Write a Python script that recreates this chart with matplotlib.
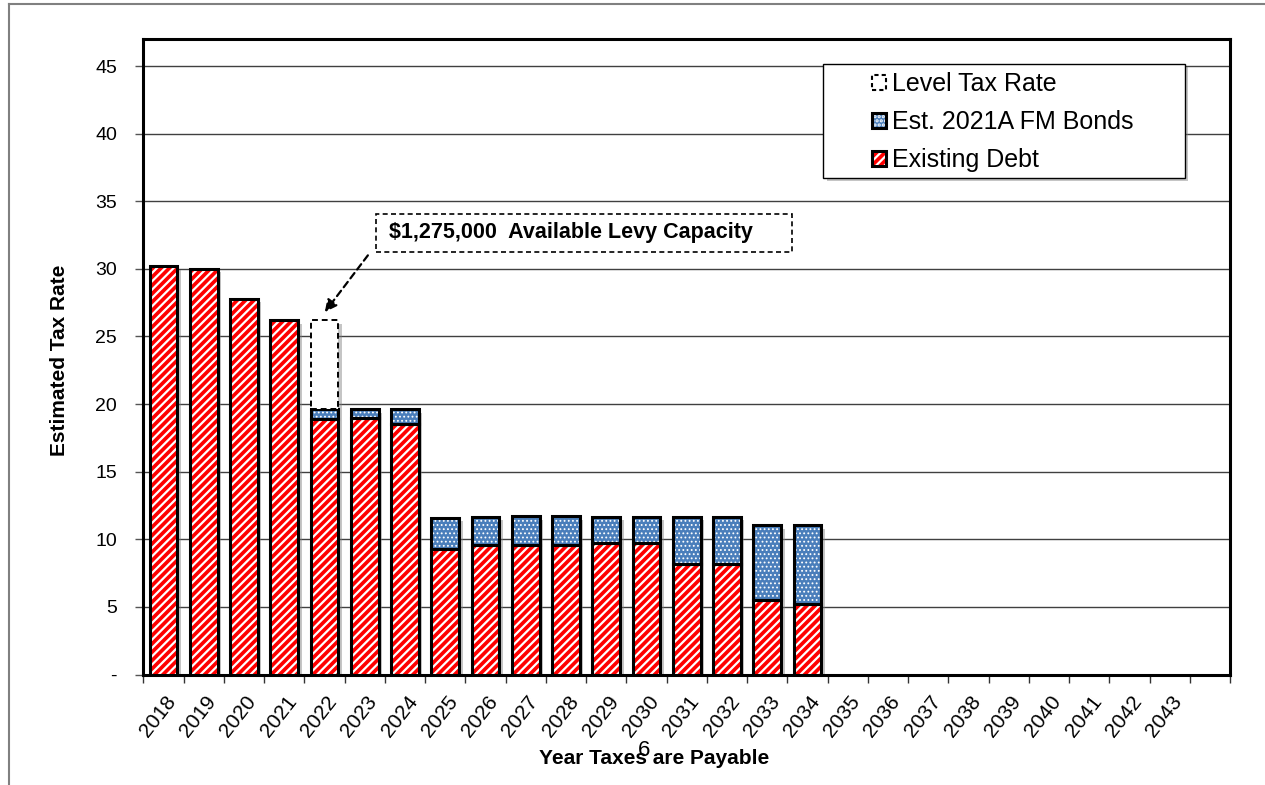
import matplotlib
matplotlib.use('Agg')
import numpy as np
import matplotlib.pyplot as plt
from matplotlib.patches import Rectangle, Patch
from matplotlib.lines import Line2D
from matplotlib import patheffects as pe
from matplotlib.legend_handler import HandlerTuple

plt.rcParams['font.family'] = ['Liberation Sans', 'DejaVu Sans']
plt.rcParams['hatch.linewidth'] = 1.6

# ---------------- data ----------------
years = ['2018', '2019', '2020', '2021', '2022', '2023', '2024', '2025', '2026',
         '2027', '2028', '2029', '2030', '2031', '2032', '2033', '2034', '2035',
         '2036', '2037', '2038', '2039', '2040', '2041', '2042', '2043', '']
existing_debt = [30.2, 30.0, 27.8, 26.2, 18.9, 19.0, 18.5, 9.3, 9.55, 9.6, 9.6,
                 9.7, 9.7, 8.2, 8.2, 5.5, 5.2, 0, 0, 0, 0, 0, 0, 0, 0, 0, 0]
fm_bonds = [0, 0, 0, 0, 0.7, 0.6, 1.1, 2.3, 2.1, 2.1, 2.1, 1.95, 1.95, 3.45,
            3.45, 5.55, 5.85, 0, 0, 0, 0, 0, 0, 0, 0, 0, 0]
level_tax = [0, 0, 0, 0, 6.6, 0, 0, 0, 0, 0, 0, 0, 0, 0, 0, 0, 0, 0, 0, 0, 0,
             0, 0, 0, 0, 0, 0]
y_ticks = [0, 5, 10, 15, 20, 25, 30, 35, 40, 45]
y_ticklabels = ['-', '5', '10', '15', '20', '25', '30', '35', '40', '45']
labels = ['Level Tax Rate', 'Est. 2021A FM Bonds', 'Existing Debt']
annotation_text = '\\$1,275,000  Available Levy Capacity'

RED = '#FF0000'
BLUE = '#4A7EBB'


def set_hlw(patches, lw):
    for p in patches:
        if hasattr(p, 'set_hatch_linewidth'):
            p.set_hatch_linewidth(lw)


fig = plt.figure(figsize=(12.65, 7.85), dpi=100)
ax = fig.add_axes([143.3 / 1265, 1 - 674.5 / 785, (1230 - 143.3) / 1265, (674.5 - 39) / 785])

n = len(years)
x = np.arange(n)
ex = np.array(existing_debt)
fb = np.array(fm_bonds)
lt = np.array(level_tax)
total = ex + fb + lt
w = 0.69

# shadows
m = total > 0
ax.bar(x[m], total[m], w, color='none', linewidth=0, zorder=2,
       path_effects=[pe.SimplePatchShadow(offset=(2.5, -2.5), shadow_rgbFace='#7f7f7f', alpha=0.45)])

# existing debt
m1 = ex > 0
with plt.rc_context({'hatch.linewidth': 1.6}):
    b = ax.bar(x[m1], ex[m1], w, color=RED, edgecolor='white', linewidth=0, hatch='////', zorder=3)
set_hlw(b, 1.6)
ax.bar(x[m1], ex[m1], w, fill=False, edgecolor='black', linewidth=2.2, zorder=4)
# bonds
m2 = fb > 0
with plt.rc_context({'hatch.linewidth': 0.8}):
    b = ax.bar(x[m2], fb[m2], w, bottom=ex[m2], color=BLUE, edgecolor='white', linewidth=0,
               hatch='....', zorder=3)
set_hlw(b, 0.8)
ax.bar(x[m2], fb[m2], w, bottom=ex[m2], fill=False, edgecolor='black', linewidth=2.2, zorder=4)
# level tax rate
m3 = lt > 0
ax.bar(x[m3], lt[m3], w, bottom=(ex + fb)[m3], color='white', edgecolor='black',
       linewidth=1.4, linestyle=(0, (3, 2)), zorder=4)

ax.set_xlim(-0.5, n - 0.5)
ax.set_ylim(0, 47)
ax.set_yticks(y_ticks)
ax.set_yticklabels(y_ticklabels, fontsize=14)
ax.tick_params(axis='y', length=6, width=1, color='#555555', pad=13)
ax.set_xticks(np.arange(n + 1) - 0.5)
ax.set_xticklabels([])
ax.tick_params(axis='x', length=6, width=1, color='#333333')
ax.yaxis.grid(True, color='#404040', linewidth=1)
ax.set_axisbelow(True)
for s in ax.spines.values():
    s.set_color('black')
    s.set_linewidth(2.2)

for i, lab in enumerate(years):
    if lab:
        ax.annotate(lab, xy=(i + 0.22, 0), xycoords=('data', 'axes fraction'),
                    xytext=(0, -17), textcoords='offset points', rotation=52,
                    ha='right', va='center', rotation_mode='anchor', fontsize=15,
                    annotation_clip=False)

# annotation box
ax.add_patch(Rectangle((5.28, 31.25), 15.61 - 5.28, 34.09 - 31.25, facecolor='white',
                       edgecolor='black', linewidth=1.2, linestyle=(0, (3, 2)), zorder=5))
ax.text(5.6, 32.67, annotation_text, fontsize=15.5, fontweight='bold', va='center', ha='left', zorder=6)
ax.annotate('', xy=(4.01, 26.8), xytext=(5.08, 31.0),
            arrowprops=dict(arrowstyle='-|>', linestyle=(0, (3, 2)), lw=1.6, color='black',
                            mutation_scale=18, shrinkA=0, shrinkB=0), zorder=6)

# legend
ax.add_patch(Rectangle((0.6255, 0.7813), 0.3331, 0.1794, transform=ax.transAxes,
                       facecolor='white', edgecolor='black', linewidth=1, zorder=4.5,
                       path_effects=[pe.SimplePatchShadow(offset=(2.5, -2.5), shadow_rgbFace='#7f7f7f', alpha=0.45),
                                     pe.Normal()]))
h_level = Patch(facecolor='white', edgecolor='black', linestyle=(0, (2, 1.5)), linewidth=1.5)
with plt.rc_context({'hatch.linewidth': 0.8}):
    hb = Patch(facecolor=BLUE, edgecolor='white', hatch='....', linewidth=0)
set_hlw([hb], 0.8)
with plt.rc_context({'hatch.linewidth': 1.6}):
    he = Patch(facecolor=RED, edgecolor='white', hatch='////', linewidth=0)
set_hlw([he], 1.6)
h_bonds = (hb, Patch(fill=False, edgecolor='black', linewidth=2.2))
h_exist = (he, Patch(fill=False, edgecolor='black', linewidth=2.2))
leg = ax.legend([h_level, h_bonds, h_exist], labels,
                handler_map={tuple: HandlerTuple(ndivide=1)},
                loc='upper left', bbox_to_anchor=(0.6706, 0.9475), frameon=False,
                borderpad=0, borderaxespad=0, handlelength=0.56, handleheight=0.56,
                handletextpad=0.25, labelspacing=0.56, fontsize=18)
leg.set_zorder(6)

# axis titles
fig.text(60 / 1265, 1 - 360 / 785, 'Estimated Tax Rate', rotation=90, ha='center',
         va='center', fontsize=15, fontweight='bold')
fig.text(654 / 1265, 1 - 758 / 785, 'Year Taxes are Payable', ha='center',
         va='center', fontsize=15, fontweight='bold')
fig.text(644 / 1265, 1 - 750 / 785, '6', ha='center', va='center', fontsize=16)

# page frame
fig.add_artist(Line2D([9 / 1265, 9 / 1265], [0, 1 - 4 / 785], color='#808080', linewidth=1.5))
fig.add_artist(Line2D([9 / 1265, 1], [1 - 4 / 785, 1 - 4 / 785], color='#808080', linewidth=1.5))

fig.savefig('out.png', dpi=100)
